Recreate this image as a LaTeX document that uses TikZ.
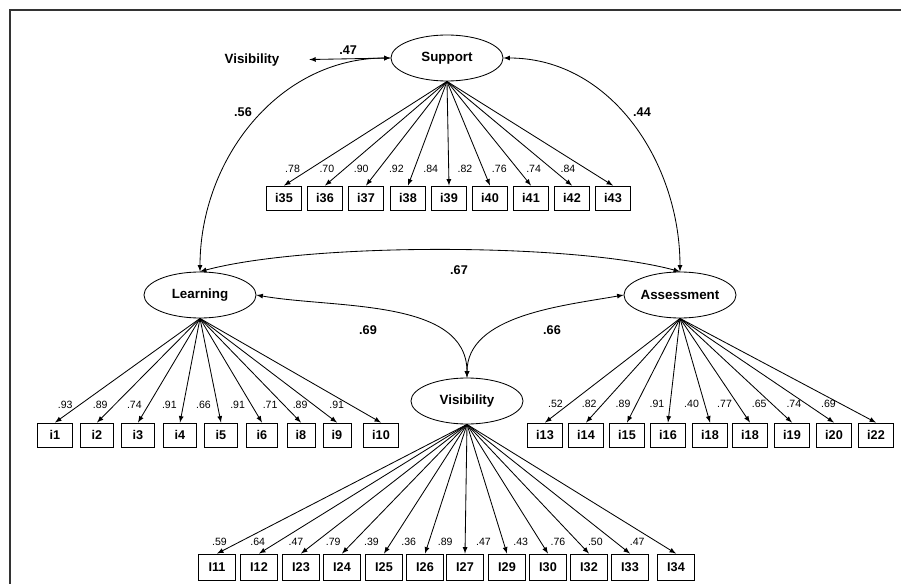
\documentclass[tikz,border=0pt]{standalone}
\usepackage{fontspec}
\setmainfont{Liberation Sans}
\usetikzlibrary{arrows,shapes.geometric}

\begin{document}
\begin{tikzpicture}[x=0.025cm,y=-0.025cm,>=latex,line width=0.6pt,
  latent/.style={draw,ellipse,minimum width=2.8cm,minimum height=1.15cm,inner sep=0pt,font=\fontsize{9.5}{11}\selectfont\bfseries},
  item/.style={draw,minimum width=0.86cm,minimum height=0.6cm,inner sep=0pt,font=\fontsize{9}{10}\selectfont\bfseries},
  load/.style={font=\fontsize{7.5}{9}\selectfont,inner sep=0pt},
  corr/.style={font=\fontsize{9}{10}\selectfont\bfseries,inner sep=0pt}]
\useasboundingbox (0,0) rectangle (901,584);
% frame
\draw[line width=1.4pt,black!80] (901,10) -- (10,10) -- (10,584);
% latent factors
\node[latent] (sup) at (447,58) {Support};
\node[latent] (learn) at (200,295) {Learning};
\node[latent] (assess) at (680,295) {Assessment};
\node[latent] (vis) at (467,401) {Visibility};
\node[font=\fontsize{9.5}{11}\selectfont\bfseries] (vislab) at (252,60) {Visibility};
% correlations
\draw[<->,shorten <=0.62cm] (vislab.east) -- (sup.west) node[corr,pos=0.6,above=3pt]{.47};
\draw[<->] (sup.west) to[out=180,in=90] (learn.north);
\draw[<->] (sup.east) to[out=0,in=90] (assess.north);
\draw[<->] (learn.north) to[out=15,in=165,looseness=0.6] (assess.north);
\draw[<->] (learn.east) to[out=-10,in=90,looseness=0.9] (vis.north);
\draw[<->] (assess.west) to[out=190,in=90,looseness=0.9] (vis.north);
\node[corr] (r56) at (243,112) {.56};
\node[corr] (r44) at (642,112) {.44};
\node[corr] (r67) at (459,270) {.67};
\node[corr] (r69) at (368,330) {.69};
\node[corr] (r66) at (552,330) {.66};
% Support items
\foreach \x/\t/\l [count=\k] in {284/i35/.78,325/i36/.70,366/i37/.90,408/i38/.92,449/i39/.84,490/i40/.82,531/i41/.76,572/i42/.74,613/i43/.84}{
  \node[item] (s\k) at (\x,198) {\t};
  \draw[->] (sup.south) -- (s\k.north) node[load,pos=0.837,xshift=-0.45cm]{\l};
}
% Learning items
\foreach \x/\t/\l/\w [count=\k] in {55/i1/.93/0.86,97/i2/.89/0.84,138/i3/.74/0.84,180/i4/.91/0.84,221/i5/.66/0.82,262/i6/.91/0.78,301/i8/.71/0.7,337/i9/.89/0.7,381/i10/.91/0.87}{
  \node[item,minimum width=\w cm] (l\k) at (\x,435) {\t};
  \draw[->] (learn.south) -- (l\k.north) node[load,pos=0.833,xshift=-0.35cm]{\l};
}
% Assessment items
\foreach \x/\t/\l [count=\k] in {545/i13/.52,586/i14/.82,627/i15/.89,668/i16/.91,710/i18/.40,750/i18/.77,792/i19/.65,834/i20/.74,876/i22/.69}{
  \node[item] (a\k) at (\x,435) {\t};
  \draw[->] (assess.south) -- (a\k.north) node[load,pos=0.825,xshift=-0.33cm]{\l};
}
% Visibility items
\foreach \x/\t/\l [count=\k] in {217/I11/.59,259/I12/.64,301/I23/.47,342/I24/.79,384/I25/.39,425/I26/.36,465/I27/.89,507/I29/.47,548/I30/.43,589/I32/.76,630/I33/.50,676/I34/.47}{
  \node[item,minimum width=0.92cm,minimum height=0.65cm] (v\k) at (\x,567) {\t};
  \draw[->] (vis.south) -- (v\k.north) node[load,pos=0.91,xshift=-0.5cm]{\l};
}
\end{tikzpicture}
\end{document}
